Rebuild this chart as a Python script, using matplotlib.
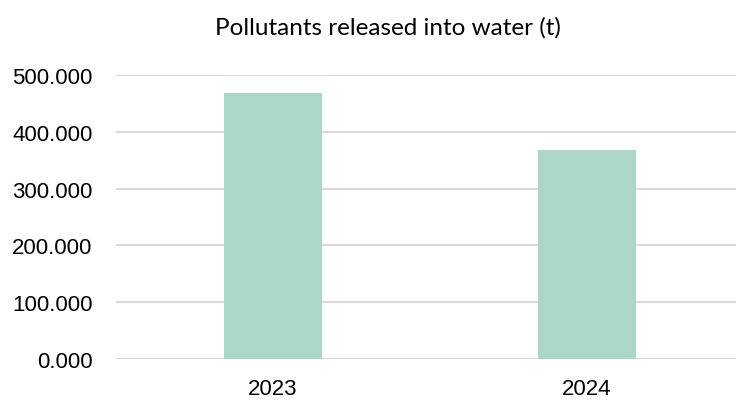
import matplotlib.pyplot as plt
from matplotlib.ticker import FuncFormatter

# data
years = ["2023", "2024"]
pollutants = [468, 368]
y_ticks = [0, 100, 200, 300, 400, 500]

fig = plt.figure(figsize=(7.36, 4.02), dpi=100)
# plot area runs a little past the right edge, gridlines get clipped there
ax = fig.add_axes([116 / 736, 1 - 360 / 402, 628 / 736, 284 / 402])

ax.bar(range(len(years)), pollutants, width=0.312, color="#acd6ca", zorder=3)

ax.set_xlim(-0.5, len(years) - 0.5)
ax.set_ylim(0, 500)
ax.set_yticks(y_ticks)
ax.yaxis.set_major_formatter(FuncFormatter(lambda v, p: f"{v:.3f}"))
ax.set_xticks(range(len(years)))
ax.set_xticklabels(years)

ax.grid(axis="y", color="#d9d9d9", linewidth=1.5, zorder=0)
ax.set_axisbelow(True)
for s in ax.spines.values():
    s.set_visible(False)
ax.tick_params(length=0, labelsize=16, colors="black")
ax.tick_params(axis="y", pad=17)
ax.tick_params(axis="x", pad=14)
for lab in ax.get_xticklabels() + ax.get_yticklabels():
    lab.set_family("Liberation Sans")

fig.text(388 / 736, 1 - 28 / 402, "Pollutants released into water (t)",
         ha="center", va="center", fontsize=17.5, family="Lato")

fig.savefig("out.png", dpi=100)
